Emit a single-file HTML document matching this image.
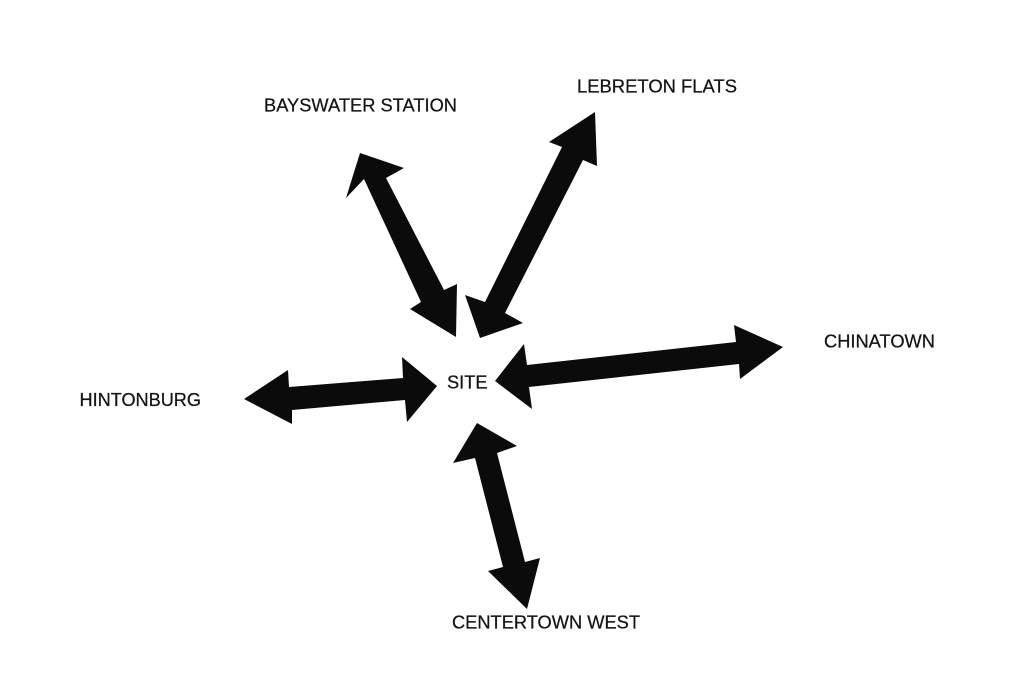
<!DOCTYPE html>
<html>
<head>
<meta charset="utf-8">
<style>
html,body{margin:0;padding:0;background:#fff;}
svg{display:block;}
text{font-family:"Liberation Sans",Arial,sans-serif;font-size:18.5px;fill:#141414;stroke:#141414;stroke-width:0.25px;}
</style>
</head>
<body>
<svg width="1024" height="696" viewBox="0 0 1024 696" xmlns="http://www.w3.org/2000/svg">
<rect width="1024" height="696" fill="#fff"/>
<g fill="#0b0b0b">
<!-- Bayswater -->
<polygon points="360,153 404,168 386,178 444,290 457,284 456,337 410,309 421,302 364,179 346,198"/>
<!-- Lebreton -->
<polygon points="595,112 597,166 583,160 505,313 523,323 480,338 465,295 485,302 562,147 549,142"/>
<!-- Hintonburg -->
<polygon points="244,399 288,370 289,387 403,378 402,357 437,386 407,422 405,400 292,410 292,424"/>
<!-- Chinatown -->
<polygon points="495,381 524,344 527,365 736,342 734,325 783,347 740,379 739,364 529,387 532,409"/>
<!-- Centertown -->
<polygon points="477,423 517,446 497,453 525,562 540,558 527,609 488,571 503,567 475,458 453,463"/>
</g>
<text x="264" y="111.7" textLength="193" lengthAdjust="spacingAndGlyphs">BAYSWATER STATION</text>
<text x="577" y="92.7" textLength="160" lengthAdjust="spacingAndGlyphs">LEBRETON FLATS</text>
<text x="79.5" y="406" textLength="121.5" lengthAdjust="spacingAndGlyphs">HINTONBURG</text>
<text x="824" y="347.7" textLength="111" lengthAdjust="spacingAndGlyphs">CHINATOWN</text>
<text x="452" y="628.3" textLength="188" lengthAdjust="spacingAndGlyphs">CENTERTOWN WEST</text>
<text x="447" y="388.3" textLength="40.5" lengthAdjust="spacingAndGlyphs">SITE</text>
</svg>
</body>
</html>
